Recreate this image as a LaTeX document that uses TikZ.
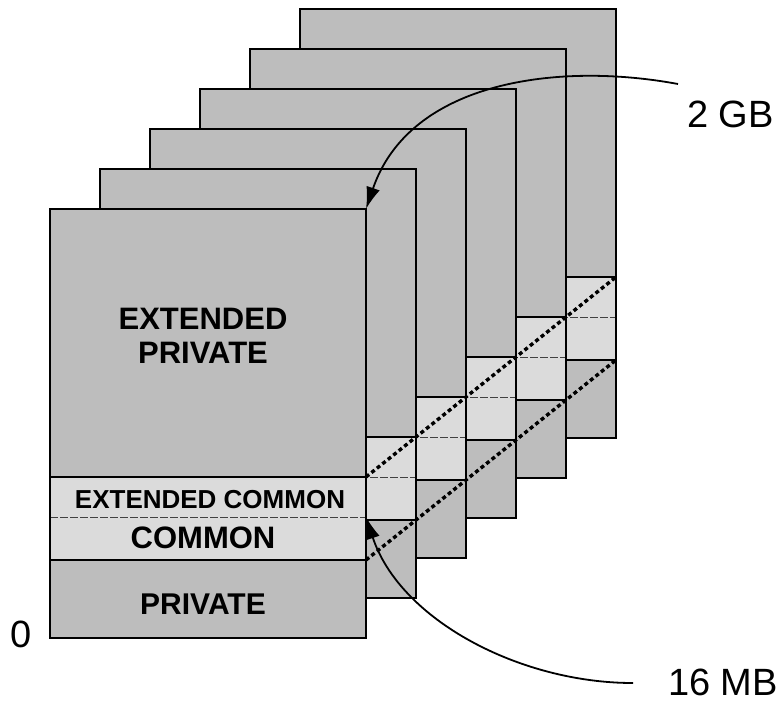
\documentclass[tikz,border=0pt]{standalone}
\usepackage{fontspec}
\setmainfont{Liberation Sans}
\usetikzlibrary{arrows.meta}
\definecolor{privfill}{gray}{0.74}
\definecolor{commfill}{gray}{0.86}
\tikzset{
  pageedge/.style={draw=black, line width=2.4pt},
  privband/.style={fill=privfill},
  commband/.style={fill=commfill},
  bandline/.style={black, line width=2.4pt},
  divline/.style={black!75, line width=1pt, dash pattern=on 8pt off 2pt},
  diag/.style={black, line width=3.4pt, dash pattern=on 4pt off 3pt},
  pointer/.style={black, line width=1.8pt, -{Latex[length=22pt,width=14pt]}},
  boxtext/.style={inner sep=0pt, anchor=base},
  sidelabel/.style={inner sep=0pt, font=\fontsize{38}{40}\selectfont}
}
\begin{document}
\begin{tikzpicture}[x=1pt,y=-1pt]
\useasboundingbox (0,0) rectangle (783,702);
% pages, back to front
\foreach \i in {5,4,3,2,1,0} {
  \begin{scope}[shift={(50*\i,-40*\i)}]
    \fill[privband] (50,209) rectangle (366,477);
    \fill[commband] (50,477) rectangle (366,560);
    \fill[privband] (50,560) rectangle (366,638);
    \draw[divline] (50,517) -- (366,517);
    \draw[bandline] (50,477) -- (366,477);
    \draw[bandline] (50,560) -- (366,560);
    \draw[pageedge] (50,209) rectangle (366,638);
    \coordinate (ec\i) at (366,477);
    \coordinate (cb\i) at (366,560);
    \coordinate (tr\i) at (366,209);
    \coordinate (dv\i) at (366,517);
  \end{scope}
}
% diagonal dotted lines
\draw[diag] (ec0) -- (ec5);
\draw[diag] (cb0) -- (cb5);
% texts on the front page
\node[boxtext, font=\bfseries\fontsize{31}{34}\selectfont] (ext) at (203,329) {EXTENDED};
\node[boxtext, font=\bfseries\fontsize{31}{34}\selectfont] (extpriv) at (203,363) {PRIVATE};
\node[boxtext, font=\bfseries\fontsize{26}{30}\selectfont] (extcomm) at (210,508) {EXTENDED COMMON};
\node[boxtext, font=\bfseries\fontsize{31}{34}\selectfont] (comm) at (203,548) {COMMON};
\node[boxtext, font=\bfseries\fontsize{30}{32}\selectfont] (priv) at (203,614) {PRIVATE};
% side labels
\node[sidelabel, anchor=base] (zero) at (21,647) {0};
\node[sidelabel, anchor=base west] (gb) at (687,127) {2 GB};
\node[sidelabel, anchor=base west] (mb) at (668,695) {16 MB};
\coordinate (gbstart) at (678,84);
\coordinate (mbstart) at (633,683);
% pointers
\draw[pointer] (gbstart) .. controls (560,62) and (410,80) .. (tr0);
\draw[pointer] (mbstart) .. controls (520,683) and (400,620) .. (dv0);
\end{tikzpicture}
\end{document}
